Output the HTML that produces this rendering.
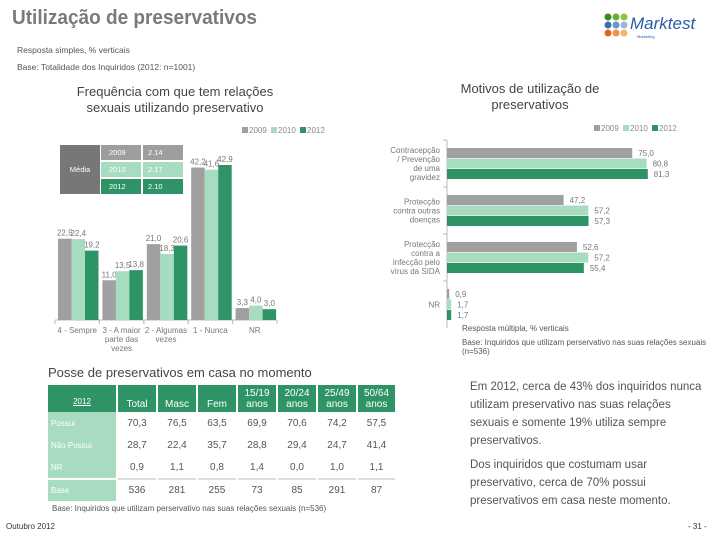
<!DOCTYPE html>
<html><head><meta charset="utf-8"><style>
body{margin:0;width:720px;height:540px;background:#fff;font-family:"Liberation Sans",sans-serif;position:relative;overflow:hidden;color:#666}
.abs{position:absolute}
td{padding:0}
</style></head><body>
<div class="abs" style="left:12px;top:7px;font-size:20px;font-weight:bold;color:#7a7a7a;transform:scaleX(0.95);transform-origin:left">Utilização de preservativos</div>
<div class="abs" style="left:17px;top:45px;font-size:8.5px;color:#555">Resposta simples, % verticais</div>
<div class="abs" style="left:17px;top:62px;font-size:8.5px;color:#555">Base: Totalidade dos Inquiridos (2012: n=1001)</div>
<svg class="abs" style="left:604px;top:12px" width="110" height="34">
<g><circle cx="4" cy="5" r="3.5" fill="#3a8a2a"/><circle cx="12" cy="5" r="3.5" fill="#6ab02e"/><circle cx="20" cy="5" r="3.5" fill="#8cc63e"/>
<circle cx="4" cy="13" r="3.5" fill="#3a6fb0"/><circle cx="12" cy="13" r="3.5" fill="#6a96cc"/><circle cx="20" cy="13" r="3.5" fill="#9ab8dc"/>
<circle cx="4" cy="21" r="3.5" fill="#e0641e"/><circle cx="12" cy="21" r="3.5" fill="#f0904a"/><circle cx="20" cy="21" r="3.5" fill="#f5b47a"/></g>
<text x="26" y="17" font-size="17" font-style="italic" fill="#2a5ca8" font-family="Liberation Sans">Marktest</text>
<text x="33" y="26" font-size="4" fill="#2a5ca8">Marketing</text></svg>

<div class="abs" style="left:55px;top:84px;width:240px;text-align:center;font-size:13px;color:#444;line-height:16px">Frequência com que tem relações sexuais utilizando preservativo</div>
<div class="abs" style="left:440px;top:81px;width:180px;text-align:center;font-size:13px;color:#444;line-height:16px">Motivos de utilização de preservativos</div>

<svg id="left" class="abs" style="left:0;top:0" width="360" height="360"></svg>
<svg id="right" class="abs" style="left:360px;top:0" width="360" height="360"></svg>

<div class="abs" style="left:60px;top:145px;width:40px;height:49px;background:#777;color:#fff;font-size:7.5px;line-height:49px;text-align:center">Média</div>
<div class="abs" style="left:101px;top:145px;width:40px;height:15px;background:#9e9e9e;color:#fff;font-size:7.5px;line-height:15px;text-indent:8px">2009</div>
<div class="abs" style="left:143px;top:145px;width:40px;height:15px;background:#9e9e9e;color:#fff;font-size:7.5px;line-height:15px;text-indent:5px">2.14</div>
<div class="abs" style="left:101px;top:162px;width:40px;height:15px;background:#a8dcc0;color:#fff;font-size:7.5px;line-height:15px;text-indent:8px">2010</div>
<div class="abs" style="left:143px;top:162px;width:40px;height:15px;background:#a8dcc0;color:#fff;font-size:7.5px;line-height:15px;text-indent:5px">2.17</div>
<div class="abs" style="left:101px;top:179px;width:40px;height:15px;background:#2e9466;color:#fff;font-size:7.5px;line-height:15px;text-indent:8px">2012</div>
<div class="abs" style="left:143px;top:179px;width:40px;height:15px;background:#2e9466;color:#fff;font-size:7.5px;line-height:15px;text-indent:5px">2.10</div>

<div class="abs" style="left:462px;top:324px;font-size:8px;color:#555">Resposta múltipla, % verticais</div>
<div class="abs" style="left:462px;top:338px;width:250px;font-size:8px;color:#555;line-height:9px">Base: Inquiridos que utilizam perservativo nas suas relações sexuais (n=536)</div>

<div class="abs" style="left:48px;top:365px;font-size:13px;color:#444">Posse de preservativos em casa no momento</div>
<table class="abs" style="left:46px;top:385px;border-collapse:separate;border-spacing:2px 0;font-size:10px;text-align:center;color:#555">
<tr style="height:27px;background:#2e9466;color:#fff">
<td style="width:68px;font-size:8px;text-decoration:underline;vertical-align:top;padding-top:12px">2012</td><td style="width:38px;vertical-align:bottom;padding-bottom:2px">Total</td><td style="width:38px;vertical-align:bottom;padding-bottom:2px">Masc</td><td style="width:38px;vertical-align:bottom;padding-bottom:2px">Fem</td><td style="width:38px;line-height:11px">15/19<br>anos</td><td style="width:38px;line-height:11px">20/24<br>anos</td><td style="width:38px;line-height:11px">25/49<br>anos</td><td style="width:37px;line-height:11px">50/64<br>anos</td></tr>
<tr style="height:22px"><td style="background:#a8dcc0;color:#fff;text-align:left;font-size:8px;padding-left:3px">Possui</td><td>70,3</td><td>76,5</td><td>63,5</td><td>69,9</td><td>70,6</td><td>74,2</td><td>57,5</td></tr>
<tr style="height:22px"><td style="background:#a8dcc0;color:#fff;text-align:left;font-size:8px;padding-left:3px">Não Possui</td><td>28,7</td><td>22,4</td><td>35,7</td><td>28,8</td><td>29,4</td><td>24,7</td><td>41,4</td></tr>
<tr style="height:22px"><td style="background:#a8dcc0;color:#fff;text-align:left;font-size:8px;padding-left:3px">NR</td><td>0,9</td><td>1,1</td><td>0,8</td><td>1,4</td><td>0,0</td><td>1,0</td><td>1,1</td></tr>
<tr style="height:23px"><td style="background:#a8dcc0;color:#fff;text-align:left;font-size:8px;padding-left:3px;border-top:2px solid #fff">Base</td><td style="border-top:2px solid #ddd">536</td><td style="border-top:2px solid #ddd">281</td><td style="border-top:2px solid #ddd">255</td><td style="border-top:2px solid #ddd">73</td><td style="border-top:2px solid #ddd">85</td><td style="border-top:2px solid #ddd">291</td><td style="border-top:2px solid #ddd">87</td></tr>
</table>
<div class="abs" style="left:52px;top:504px;font-size:8px;color:#555">Base: Inquiridos que utilizam perservativo nas suas relações sexuais (n=536)</div>

<div class="abs" style="left:470px;top:378px;width:238px;font-size:11.5px;line-height:18px;color:#555;text-align:left">Em 2012, cerca de 43% dos inquiridos nunca utilizam preservativo nas suas relações sexuais e somente 19% utiliza sempre preservativos.<div style="margin-top:6px">Dos inquiridos que costumam usar preservativo, cerca de 70% possui preservativos em casa neste momento.</div></div>
<div class="abs" style="left:6px;top:522px;font-size:8px;color:#333">Outubro 2012</div>
<div class="abs" style="left:688px;top:522px;font-size:8px;color:#333">- 31 -</div>

<script>
const NS='http://www.w3.org/2000/svg';
const years=['2009','2010','2012'];
const colors=['#a0a0a0','#a8dcc0','#2e9466'];
const freqCats=[['4 - Sempre'],['3 - A maior','parte das','vezes'],['2 - Algumas','vezes'],['1 - Nunca'],['NR']];
const freq2009=[22.5,11.0,21.0,42.2,3.3];
const freq2010=[22.4,13.5,18.3,41.6,4.0];
const freq2012=[19.2,13.8,20.6,42.9,3.0];
const reasonCats=[['Contracepção','/ Prevenção','de uma','gravidez'],['Protecção','contra outras','doenças'],['Protecção','contra a','infecção pelo','vírus da SIDA'],['NR']];
const reason2009=[75.0,47.2,52.6,0.9];
const reason2010=[80.8,57.2,57.2,1.7];
const reason2012=[81.3,57.3,55.4,1.7];
const fmt=v=>v.toFixed(1).replace('.',',');
function el(p,t,a){const e=document.createElementNS(NS,t);for(const k in a)e.setAttribute(k,a[k]);p.appendChild(e);return e;}

const L=document.getElementById('left');
const x0=55,gw=44.4,base=320,ys=v=>v*3.613;
const fs=[freq2009,freq2010,freq2012];
const ax=el(L,'line',{x1:x0,y1:base,x2:x0+gw*5,y2:base,stroke:'#bbb'});


freqCats.forEach((c,i)=>{
  const t=el(L,'line',{x1:x0+gw*i,y1:base,x2:x0+gw*i,y2:base+4,stroke:'#bbb'});
  
  
  fs.forEach((s,j)=>{
    const h=ys(s[i]),bx=x0+gw*i+3+j*13.5;
    const r=el(L,'rect',{x:bx,y:base-h,width:13.5,height:h,fill:colors[j]});
    
    
    const lb=el(L,'text',{x:bx+6.75,y:base-h-3,'text-anchor':'middle','font-size':8,fill:'#777'});
    lb.textContent=fmt(s[i]);
    
    
  });
  const tx=el(L,'text',{x:x0+gw*i+gw/2,y:333,'text-anchor':'middle','font-size':8,fill:'#777'});
  
  
  c.forEach((s,k)=>{const ts=el(tx,'tspan',{x:x0+gw*i+gw/2,dy:k?9:0});ts.textContent=s;});
  const t2=el(L,'line',{x1:x0+gw*(i+1),y1:base,x2:x0+gw*(i+1),y2:base+4,stroke:'#bbb'});
  
  
});
function legend(svg,lx,ly){years.forEach((y,j)=>{
  const r=el(svg,'rect',{x:lx+j*29,y:ly-6,width:6,height:6,fill:colors[j]});
  
  
  const t=el(svg,'text',{x:lx+j*29+7,y:ly,'font-size':8,fill:'#888'});t.textContent=y;
  
  
});}
legend(L,242,133);

const R=document.getElementById('right');
const ax0=87,gh=47,top0=140,xs=v=>v*2.47;
const rs=[reason2009,reason2010,reason2012];
const ya=el(R,'line',{x1:ax0,y1:top0,x2:ax0,y2:top0+gh*4,stroke:'#bbb'});


reasonCats.forEach((c,i)=>{
  const tk=el(R,'line',{x1:ax0-4,y1:top0+gh*i,x2:ax0,y2:top0+gh*i,stroke:'#bbb'});
  
  
  rs.forEach((s,j)=>{
    const w=xs(s[i]),by=top0+gh*i+8+j*10.5;
    const r=el(R,'rect',{x:ax0,y:by,width:w,height:10,fill:colors[j]});
    
    
    const lb=el(R,'text',{x:ax0+w+6,y:by+8,'font-size':8,fill:'#777'});lb.textContent=fmt(s[i]);
    
    
  });
  const n=c.length,cy=top0+gh*i+gh/2-(n-1)*4.5+3;
  const tx=el(R,'text',{x:80,y:cy,'text-anchor':'end','font-size':8,fill:'#777'});
  
  
  c.forEach((s,k)=>{const ts=el(tx,'tspan',{x:80,dy:k?9:0});ts.textContent=s;});
});
legend(R,234,131);
</script>
</body></html>
